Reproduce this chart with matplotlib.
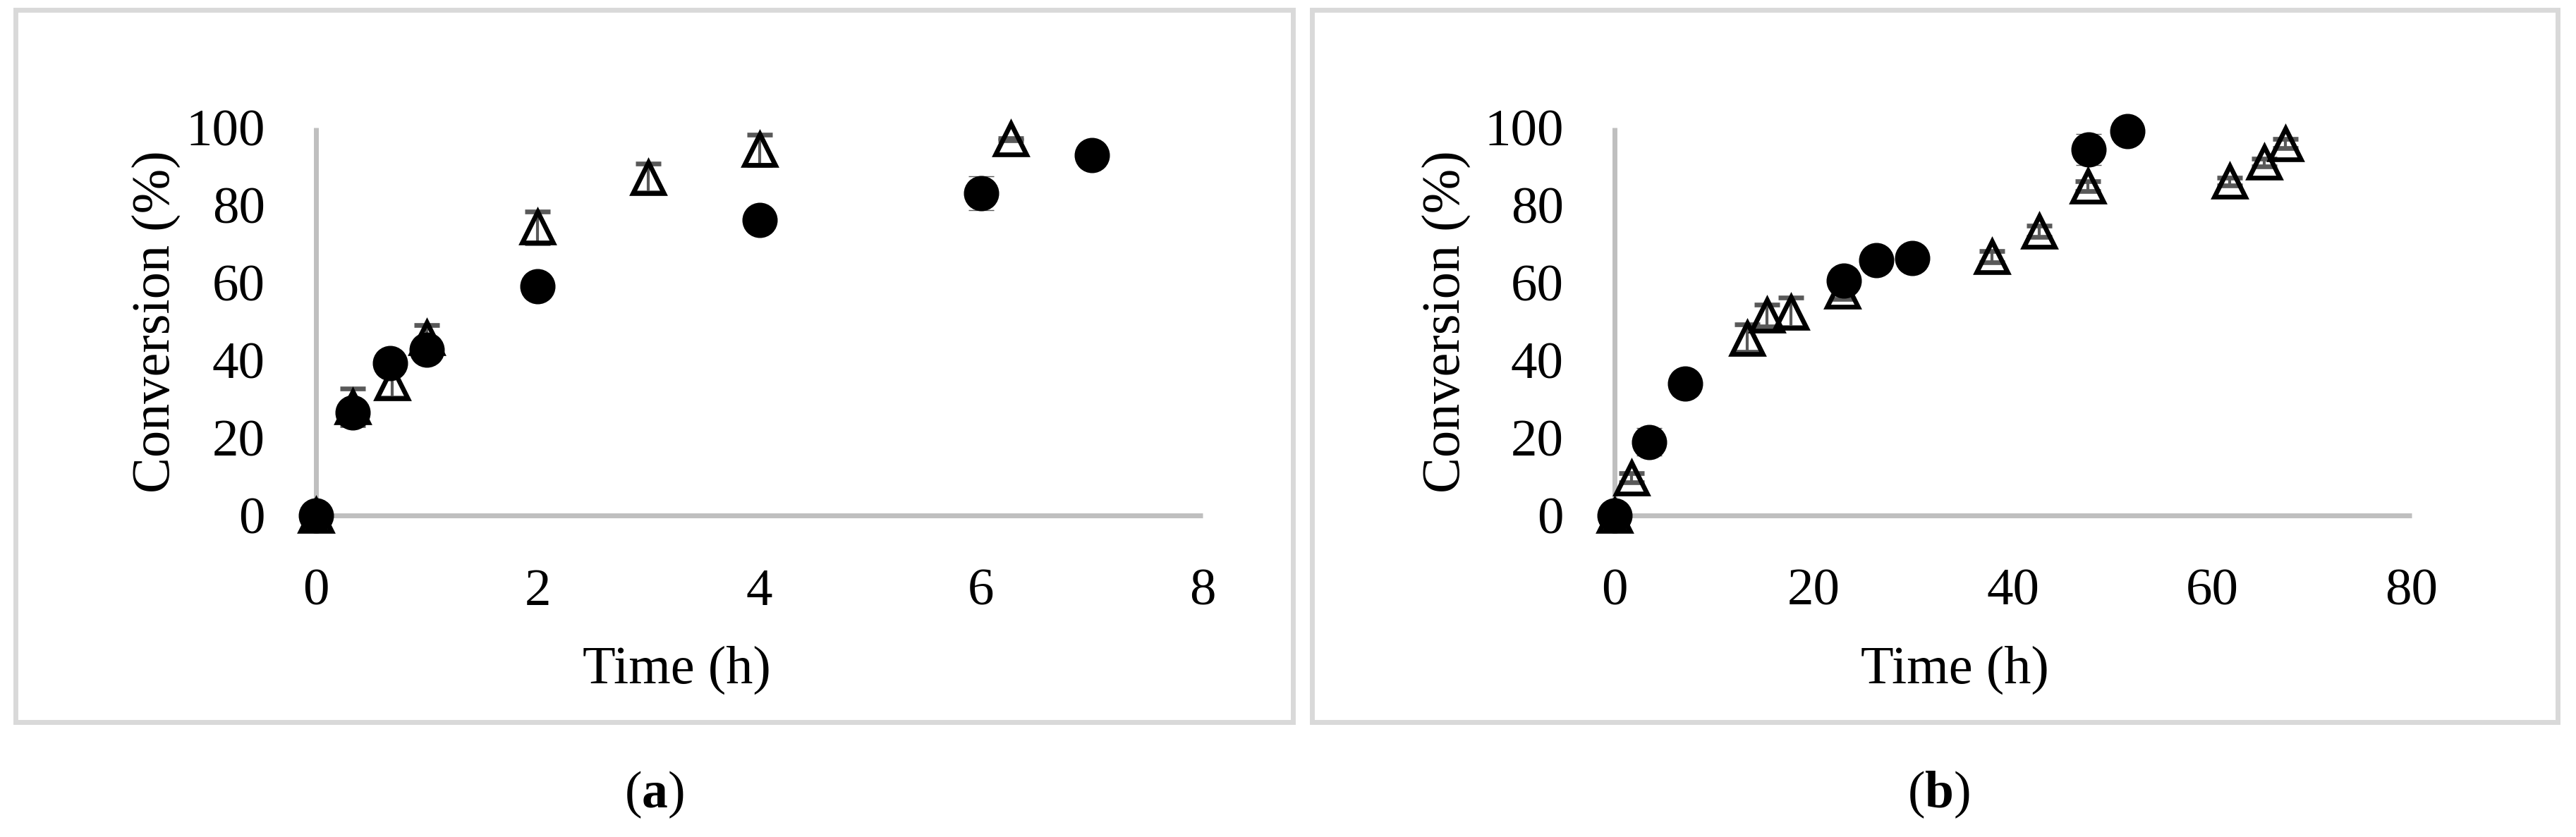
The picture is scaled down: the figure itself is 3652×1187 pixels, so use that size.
import matplotlib
matplotlib.use("Agg")
import matplotlib.pyplot as plt
from matplotlib.patches import Rectangle

plt.rcParams.update({
    "font.family": ["Liberation Serif", "DejaVu Serif"],
    "mathtext.fontset": "custom",
    "mathtext.rm": "Liberation Serif",
    "mathtext.bf": "Liberation Serif:bold",
    "figure.facecolor": "white",
})

# panel (a): time in h, conversion in %
a_circ_t = [0, 0.33, 0.67, 1.0, 2.0, 4.0, 6.0, 7.0]
a_circ_y = [0, 26.6, 39.3, 42.8, 59.1, 76.1, 83.1, 92.9]
a_circ_err = [0.5, 1.0, 2.0, 2.5, 1.0, 1.0, 4.3, 1.0]
a_tri_t = [0, 0.33, 0.69, 1.0, 2.0, 3.0, 4.0, 6.27]
a_tri_y = [0, 28.0, 34.1, 45.9, 74.3, 87.0, 94.3, 97.0]
a_tri_err = [0.3, 4.7, 3.8, 3.1, 4.1, 3.8, 3.9, 0.3]

# panel (b)
b_circ_t = [0, 3.5, 7.1, 23.0, 26.3, 29.9, 47.6, 51.5]
b_circ_y = [0, 19.0, 34.0, 60.6, 65.8, 66.4, 94.3, 99.1]
b_circ_err = [0.5, 3.5, 3.0, 3.0, 1.0, 1.0, 4.0, 1.0]
b_tri_t = [0, 1.7, 13.3, 15.3, 17.7, 22.9, 37.9, 42.6, 47.5, 61.7, 65.2, 67.3]
b_tri_y = [0, 9.7, 45.7, 51.6, 52.3, 57.9, 66.7, 73.3, 84.9, 86.1, 91.0, 95.9]
b_tri_err = [0.3, 1.2, 3.5, 2.8, 3.8, 2.0, 1.5, 1.5, 1.2, 1.0, 1.0, 1.1]

y_ticks = [0, 20, 40, 60, 80, 100]
a_x_ticks = [0, 2, 4, 6, 8]
b_x_ticks = [0, 20, 40, 60, 80]

W, H = 3652, 1187
fig = plt.figure(figsize=(W / 100, H / 100), dpi=100)

AXIS_GREY = "#bfbfbf"
ERR_GREY = "#595959"
FRAME_GREY = "#d9d9d9"


def px_rect(x0, y0, x1, y1):
    # pixel box (top-left origin) -> figure fraction [l, b, w, h]
    return [x0 / W, 1 - y1 / H, (x1 - x0) / W, (y1 - y0) / H]


def draw_panel(rect, xt, ct, cy, ce, tt, ty, te, ylab_x, xlab_x, letter, letter_x):
    ax = fig.add_axes(rect)
    xmax = xt[-1]
    ax.set_xlim(0, xmax)
    ax.set_ylim(0, 100)
    for s in ax.spines.values():
        s.set_visible(False)
    ax.plot([0, xmax], [0, 0], color=AXIS_GREY, lw=5, solid_capstyle="butt",
            zorder=1, clip_on=False)
    ax.plot([0, 0], [0, 100], color=AXIS_GREY, lw=5, solid_capstyle="butt",
            zorder=1, clip_on=False)

    ax.errorbar(tt, ty, yerr=te, fmt="^", ms=32, mfc="none", mec="black", mew=4.8,
                ecolor=ERR_GREY, elinewidth=3, capsize=13, capthick=5, zorder=3)
    ax.errorbar(ct, cy, yerr=ce, fmt="o", ms=35, mfc="black", mec="black", mew=1,
                ecolor=ERR_GREY, elinewidth=3, capsize=13, capthick=5, zorder=4)
    for art in ax.get_children():
        art.set_clip_on(False)

    ax.set_xticks(xt)
    ax.set_yticks(y_ticks)
    ax.tick_params(length=0, labelsize=54)
    ax.tick_params(axis="y", pad=52)
    ax.tick_params(axis="x", pad=54)

    ax.set_xlabel("Time (h)", fontsize=55, va="center")
    ax.xaxis.set_label_coords(xlab_x, -0.398)
    ax.set_ylabel("Conversion (%)", fontsize=55, va="center")
    ax.yaxis.set_label_coords(ylab_x, 0.5)
    fig.text(letter_x, 1 - 1127 / H, letter, fontsize=53, ha="center", va="center")
    return ax


# light grey boxes round each panel
for x0, x1 in [(22, 1833), (1860, 3626)]:
    l, b, w, h = px_rect(x0, 14, x1, 1024)
    fig.patches.append(Rectangle((l, b), w, h, transform=fig.transFigure, fill=False,
                                 edgecolor=FRAME_GREY, lw=5))

draw_panel(px_rect(448, 181, 1705, 731), a_x_ticks, a_circ_t, a_circ_y, a_circ_err,
           a_tri_t, a_tri_y, a_tri_err, -0.18, 0.407, r"($\mathbf{a}$)", 927 / W)
draw_panel(px_rect(2289, 181, 3419, 731), b_x_ticks, b_circ_t, b_circ_y, b_circ_err,
           b_tri_t, b_tri_y, b_tri_err, -0.211, 0.427, r"($\mathbf{b}$)", 2748 / W)

fig.savefig("out.png", dpi=100)
